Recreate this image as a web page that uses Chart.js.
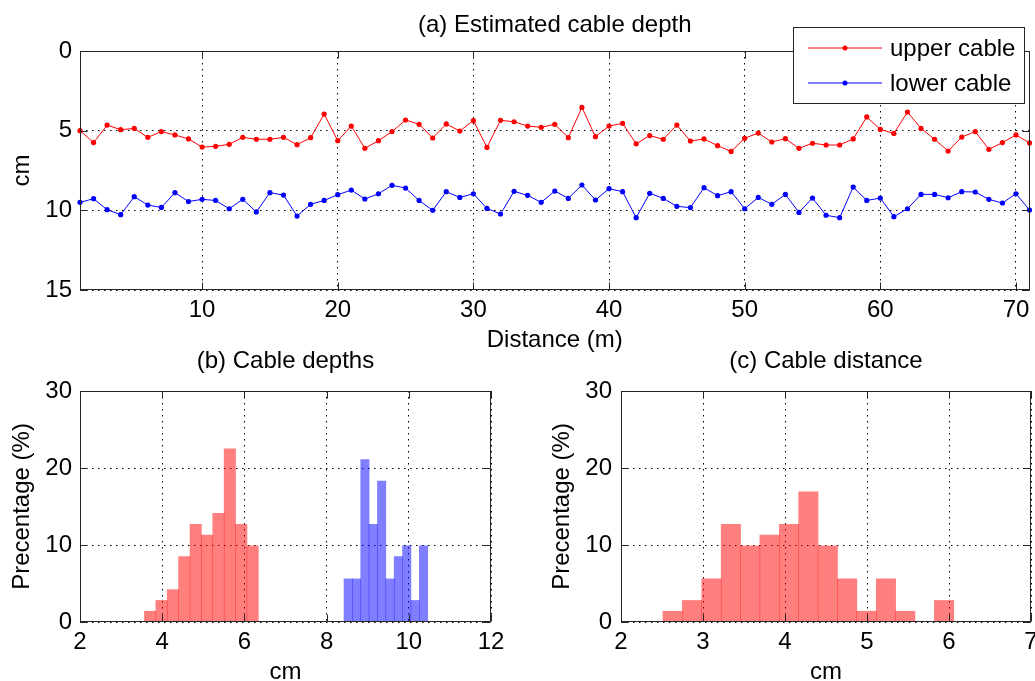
<!DOCTYPE html>
<html>
<head>
<meta charset="utf-8">
<script src="https://cdn.jsdelivr.net/npm/chart.js@4.4.1/dist/chart.umd.min.js"></script>
<style>
  html, body { margin: 0; padding: 0; background: #fff; overflow: hidden; width: 1035px; height: 681px; }
  canvas { position: absolute; }
  #depthChart { left: 0; top: 0; }
  #depthHist { left: 0; top: 340px; }
  #gapHist { left: 520px; top: 340px; }
</style>
</head>
<body>
<canvas id="depthChart" width="1035" height="360"></canvas>
<canvas id="depthHist" width="520" height="350"></canvas>
<canvas id="gapHist" width="530" height="350"></canvas>
<script>
// (a) estimated cable depth along the line
const distance = [1, 2, 3, 4, 5, 6, 7, 8, 9, 10, 11, 12, 13, 14, 15, 16, 17, 18, 19, 20,
  21, 22, 23, 24, 25, 26, 27, 28, 29, 30, 31, 32, 33, 34, 35, 36, 37, 38, 39, 40,
  41, 42, 43, 44, 45, 46, 47, 48, 49, 50, 51, 52, 53, 54, 55, 56, 57, 58, 59, 60,
  61, 62, 63, 64, 65, 66, 67, 68, 69, 70, 71];
const upperDepth = [5.0, 5.75, 4.65, 4.94, 4.86, 5.42, 5.06, 5.27, 5.52, 6.03,
  5.98, 5.86, 5.42, 5.54, 5.54, 5.42, 5.88, 5.44, 3.96, 5.63,
  4.71, 6.11, 5.63, 5.06, 4.33, 4.6, 5.46, 4.58, 5.02, 4.37,
  6.05, 4.35, 4.44, 4.71, 4.79, 4.6, 5.44, 3.54, 5.38, 4.71,
  4.54, 5.82, 5.31, 5.54, 4.65, 5.65, 5.52, 5.94, 6.3, 5.48,
  5.15, 5.71, 5.5, 6.11, 5.79, 5.9, 5.9, 5.52, 4.14, 4.92,
  5.17, 3.83, 4.86, 5.54, 6.28, 5.4, 5.06, 6.17, 5.75, 5.27, 5.77];
const lowerDepth = [9.5, 9.27, 9.96, 10.27, 9.14, 9.67, 9.82, 8.89, 9.45, 9.31,
  9.38, 9.9, 9.31, 10.1, 8.89, 9.04, 10.36, 9.62, 9.38, 9.02,
  8.73, 9.29, 8.96, 8.43, 8.6, 9.38, 10.0, 8.83, 9.19, 8.96,
  9.88, 10.23, 8.81, 9.06, 9.5, 8.79, 9.25, 8.41, 9.35, 8.64,
  8.83, 10.46, 8.93, 9.25, 9.75, 9.83, 8.58, 9.08, 8.83, 9.9,
  9.19, 9.62, 9.0, 10.13, 9.23, 10.31, 10.46, 8.54, 9.38, 9.23,
  10.4, 9.9, 9.0, 9.0, 9.21, 8.83, 8.85, 9.31, 9.54, 8.96, 9.98];
const distanceTicks = [10, 20, 30, 40, 50, 60, 70];
const depthTicks = [0, 5, 10, 15];

// (b) cable depth histograms (bin centres in cm, percentage)
const upperBins = [3.707, 3.984, 4.261, 4.538, 4.815, 5.092, 5.369, 5.646, 5.923, 6.200];
const upperPct = [1.4, 2.8, 4.2, 8.5, 12.7, 11.3, 14.1, 22.5, 12.7, 9.9];
const lowerBins = [8.525, 8.729, 8.932, 9.136, 9.339, 9.543, 9.746, 9.950, 10.153, 10.357];
const lowerPct = [5.6, 5.6, 21.1, 12.7, 18.3, 5.6, 8.5, 9.9, 2.8, 9.9];
const depthHistTicks = [2, 4, 6, 8, 10, 12];

// (c) distance between cables
const gapBins = [2.630, 2.867, 3.103, 3.340, 3.576, 3.812, 4.049, 4.285,
  4.522, 4.758, 4.994, 5.231, 5.467, 5.704, 5.940];
const gapPct = [1.4, 2.8, 5.6, 12.7, 9.9, 11.3, 12.7, 16.9, 9.9, 5.6, 1.4, 5.6, 1.4, 0, 2.8];
const gapTicks = [2, 3, 4, 5, 6, 7];
const pctTicks = [0, 10, 20, 30];

Chart.defaults.font.family = "'Liberation Sans', Arial, sans-serif";
Chart.defaults.font.size = 24;
Chart.defaults.color = '#000';
Chart.defaults.animation = false;

const FRAME = '#262626';

function fixedTicks(list) {
  return (scale) => {
    scale.ticks = list.map((v) => ({ value: v }));
  };
}

function axis(min, max, ticks, extra) {
  return Object.assign({
    type: 'linear',
    min,
    max,
    offset: false,
    afterBuildTicks: fixedTicks(ticks),
    grid: { color: '#000', lineWidth: 1, drawTicks: false, offset: false },
    border: { display: false, dash: [1.5, 4.5] },
    ticks: { autoSkip: false, maxRotation: 0, padding: 5.6 },
  }, extra);
}

// box round the plot and the little inward ticks
const framePlugin = {
  id: 'frame',
  afterDraw(chart) {
    const { ctx, chartArea: a } = chart;
    const xs = chart.scales.x;
    const ys = chart.scales.y;
    const l = Math.round(a.left) + 0.5;
    const r = Math.round(a.right) - 0.5;
    const t = Math.round(a.top) + 0.5;
    const b = Math.round(a.bottom) - 0.5;
    ctx.save();
    ctx.strokeStyle = FRAME;
    ctx.lineWidth = 1;
    ctx.beginPath();
    xs.ticks.forEach((tick) => {
      const px = Math.round(xs.getPixelForValue(tick.value)) + 0.5;
      ctx.moveTo(px, b);
      ctx.lineTo(px, b - 7);
      ctx.moveTo(px, t);
      ctx.lineTo(px, t + 7);
    });
    ys.ticks.forEach((tick) => {
      const py = Math.round(ys.getPixelForValue(tick.value)) + 0.5;
      ctx.moveTo(l, py);
      ctx.lineTo(l + 7, py);
      ctx.moveTo(r, py);
      ctx.lineTo(r - 7, py);
    });
    ctx.stroke();
    ctx.strokeRect(l, t, r - l, b - t);
    ctx.restore();
  },
};

const boxLegend = {
  id: 'boxLegend',
  afterDraw(chart) {
    const ctx = chart.ctx;
    ctx.save();
    ctx.fillStyle = '#fff';
    ctx.fillRect(793.5, 27.5, 231, 76);
    ctx.strokeStyle = FRAME;
    ctx.lineWidth = 1;
    ctx.strokeRect(793.5, 27.5, 231, 76);
    ctx.font = "24px 'Liberation Sans', Arial, sans-serif";
    ctx.textBaseline = 'middle';
    chart.data.datasets.forEach((ds, i) => {
      const y = 48 + i * 35;
      ctx.strokeStyle = ds.borderColor;
      ctx.beginPath();
      ctx.moveTo(808, y);
      ctx.lineTo(882, y);
      ctx.stroke();
      ctx.fillStyle = ds.borderColor;
      ctx.beginPath();
      ctx.arc(845, y, 2.5, 0, Math.PI * 2);
      ctx.fill();
      ctx.fillStyle = '#000';
      ctx.fillText(ds.label, 890, y + 1);
    });
    ctx.restore();
  },
};

function depthLine(label, values, color) {
  return {
    label,
    data: distance.map((d, i) => ({ x: d, y: values[i] })),
    borderColor: color,
    backgroundColor: color,
    borderWidth: 1,
    pointRadius: 2.6,
    pointBorderWidth: 0,
    tension: 0,
    clip: 6,
  };
}

new Chart(document.getElementById('depthChart'), {
  type: 'line',
  data: {
    datasets: [
      depthLine('upper cable', upperDepth, '#FF0000'),
      depthLine('lower cable', lowerDepth, '#0000FF'),
    ],
  },
  options: {
    responsive: false,
    layout: { padding: { left: 0, right: 4, top: 0, bottom: 0 } },
    plugins: {
      legend: { display: false },
      tooltip: { enabled: false },
      title: {
        display: true,
        fullSize: false,
        text: '(a) Estimated cable depth',
        font: { size: 24, weight: 'normal' },
        padding: { top: 10.6, bottom: 11.6 },
      },
    },
    scales: {
      x: axis(1, 71, distanceTicks, {
        afterFit: (s) => { s.height = 70; },
        title: { display: true, text: 'Distance (m)', padding: { top: 0, bottom: 5.6 } },
      }),
      y: axis(0, 15, depthTicks, {
        reverse: true,
        afterFit: (s) => { s.width = 80; },
        ticks: { autoSkip: false, padding: 8 },
        title: { display: true, text: 'cm', padding: { top: 7.6, bottom: 0 } },
      }),
    },
  },
  plugins: [framePlugin, boxLegend],
});

function histBars(bins, pct, color, axisId) {
  return {
    data: bins.map((c, i) => ({ x: c, y: pct[i] })),
    backgroundColor: color,
    borderWidth: 0,
    barPercentage: 1,
    categoryPercentage: 1,
    grouped: false,
    xAxisID: axisId,
  };
}

function histOptions(title, xMin, xMax, xTicks, yWidth, yTitlePad, yTickPad, rightPad) {
  return {
    responsive: false,
    layout: { padding: { left: 0, right: rightPad, top: 0, bottom: 0 } },
    plugins: {
      legend: { display: false },
      tooltip: { enabled: false },
      title: {
        display: true,
        fullSize: false,
        text: title,
        font: { size: 24, weight: 'normal' },
        padding: { top: 7.4, bottom: 14.8 },
      },
    },
    scales: {
      x: axis(xMin, xMax, xTicks, {
        afterFit: (s) => { s.height = 68; },
        title: { display: true, text: 'cm', padding: { top: 0, bottom: 3.6 } },
      }),
      x2: axis(xMin, xMax, xTicks, { display: false }),
      y: axis(0, 30, pctTicks, {
        afterFit: (s) => { s.width = yWidth; },
        ticks: { autoSkip: false, padding: yTickPad },
        title: { display: true, text: 'Precentage (%)', padding: { top: yTitlePad, bottom: 0 } },
      }),
    },
  };
}

new Chart(document.getElementById('depthHist'), {
  type: 'bar',
  data: {
    datasets: [
      histBars(upperBins, upperPct, 'rgba(255, 0, 0, 0.5)', 'x'),
      histBars(lowerBins, lowerPct, 'rgba(0, 0, 255, 0.5)', 'x2'),
    ],
  },
  options: histOptions('(b) Cable depths', 2, 12, depthHistTicks, 80, 7.6, 8, 29),
  plugins: [framePlugin],
});

new Chart(document.getElementById('gapHist'), {
  type: 'bar',
  data: {
    datasets: [
      histBars(gapBins, gapPct, 'rgba(255, 0, 0, 0.5)', 'x'),
    ],
  },
  options: histOptions('(c) Cable distance', 2, 7, gapTicks, 101, 27.6, 9, 19),
  plugins: [framePlugin],
});
</script>
</body>
</html>
